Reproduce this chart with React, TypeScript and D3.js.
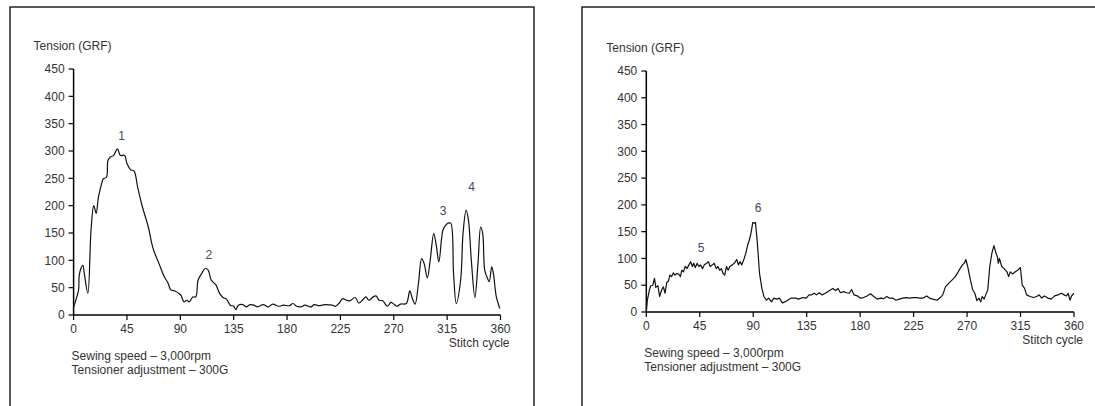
import React from "react";
import * as d3 from "d3";

// thread tension over one stitch cycle, two traces
const leftDeg = [0, 2.7, 4.2, 5, 7.8, 9, 12, 14.7, 17, 19, 21, 24, 25, 27.7, 29, 31, 33.7, 37, 39.4, 43, 45, 48, 51, 54, 58, 63, 67, 72, 76.5, 79.5, 82, 85.5, 88.5, 90.6, 93, 95.4, 97.5, 100.5, 103, 105, 108, 111, 113.5, 116, 120, 123, 126, 129, 132, 135, 136.7, 139, 142.7, 145.7, 148.7, 152, 155, 160, 164, 168, 173, 177, 182, 185, 188, 192, 195, 200, 203, 207, 212, 218, 221, 224, 227, 230, 233, 237.5, 240.5, 243.5, 246.5, 249, 252.5, 255, 257.7, 260.7, 264.6, 267.6, 270, 272.7, 275.7, 280.6, 283.5, 285.7, 288, 290.8, 293.5, 295.6, 298.3, 300.7, 303.7, 306, 308, 311.4, 313.4, 315.8, 318, 320.4, 322.7, 326.4, 328.4, 331, 333, 335.4, 338.4, 341, 343.3, 345, 346.7, 349, 350.5, 352.6, 354, 356.5, 359.4];
const leftVal = [14, 33, 46, 76, 91, 76, 40, 155, 200, 186, 216, 243, 249, 252, 283, 289, 292, 304, 292, 292, 277, 266, 263, 234, 198, 161, 122, 94, 70, 59, 46, 44, 40, 36, 24, 27, 24, 33, 33, 64, 76, 85, 82, 64, 55, 40, 32, 29, 18, 16, 10, 18, 19, 15, 19, 18, 15, 19, 15, 20, 16, 18, 17, 21, 16, 15, 18, 15, 19, 17, 19, 18, 16, 22, 30, 27, 26, 32, 22, 27, 33, 27, 33, 35, 27, 26, 16, 23, 20, 16, 20, 21, 44, 30, 20, 58, 103, 94, 68, 100, 149, 125, 97, 155, 163, 168, 168, 76, 21, 64, 149, 192, 173, 100, 32, 94, 161, 149, 82, 67, 61, 88, 76, 33, 12];

const rightDeg = [0, 0.9, 2.6, 3.7, 5.5, 6.9, 8, 9.8, 11.2, 12.9, 14.4, 15.8, 17.2, 18.7, 19.8, 21.2, 22.7, 24.1, 25.8, 27.3, 28.7, 29.9, 31.3, 32.7, 34.2, 35.9, 37.3, 38.8, 39.9, 41.3, 42.8, 44.2, 45.6, 47.4, 48.8, 50.8, 52.3, 53.7, 55.7, 57.1, 58.9, 60.3, 61.7, 63.2, 64.6, 66, 67.5, 68.9, 70.3, 72.4, 74.4, 76.1, 77.5, 79, 80.4, 82.4, 83.8, 85.3, 86.7, 88.1, 89.6, 91, 91.9, 93.3, 95.3, 97.3, 99, 101, 103, 105.4, 107.4, 109.7, 112, 114.6, 116.9, 119.1, 122, 125.5, 128.3, 131.8, 134.6, 137, 139.2, 141.3, 143.3, 145.6, 147.9, 150.7, 154.2, 157, 159.3, 161.4, 163.4, 166.2, 168.5, 170.8, 172.8, 174.8, 177.7, 180, 182.9, 185.8, 188.6, 191.5, 194.4, 197.2, 200, 202.4, 204.4, 207.3, 210.2, 213, 215.9, 218.8, 221.6, 224.5, 227.4, 230.3, 233.1, 236, 238.3, 241.2, 244.6, 247.5, 249.5, 251.8, 254.7, 257.5, 259.8, 261.8, 263.8, 266.1, 267.6, 269, 270.5, 272.8, 274.8, 276.5, 278.3, 280, 281.4, 282.8, 284.3, 285.7, 287.4, 289.1, 290.9, 292.6, 294.3, 295.5, 296.3, 297.2, 299.2, 301.2, 303.5, 305, 306.3, 308.3, 310.6, 312.6, 314.9, 316.4, 318.4, 320.1, 323, 325.9, 328.7, 330.7, 332.8, 335.1, 337.9, 340.8, 343.7, 346.5, 349.4, 351.7, 353.7, 355.1, 356.6, 358, 360];
const rightVal = [0, 22, 41, 49, 50, 63, 46, 49, 29, 41, 47, 35, 55, 58, 69, 66, 73, 69, 72, 71, 66, 78, 75, 85, 81, 88, 94, 85, 91, 83, 91, 85, 88, 81, 88, 91, 94, 85, 88, 91, 81, 85, 78, 81, 72, 69, 85, 78, 85, 88, 92, 98, 88, 94, 88, 100, 110, 125, 134, 147, 167, 166, 167, 134, 72, 44, 29, 22, 26, 19, 26, 24, 26, 17, 19, 22, 26, 26, 24, 27, 26, 32, 32, 35, 32, 36, 32, 35, 40, 44, 40, 44, 36, 38, 36, 35, 42, 32, 30, 26, 27, 30, 34, 29, 24, 26, 25, 29, 26, 26, 22, 24, 26, 27, 26, 27, 27, 26, 26, 30, 26, 24, 22, 27, 32, 47, 54, 60, 65, 72, 80, 88, 91, 98, 85, 60, 41, 35, 21, 26, 19, 29, 24, 32, 41, 85, 110, 124, 110, 103, 91, 100, 85, 81, 75, 66, 75, 71, 75, 78, 83, 50, 44, 32, 29, 27, 29, 32, 26, 30, 26, 24, 30, 32, 35, 32, 30, 35, 22, 30, 35];

const xTicks = [0, 45, 90, 135, 180, 225, 270, 315, 360];
const yTicks = [0, 50, 100, 150, 200, 250, 300, 350, 400, 450];

const leftPeaks = [
  { t: "1", deg: 40.4, val: 320 },
  { t: "2", deg: 114, val: 102 },
  { t: "3", deg: 311.5, val: 183 },
  { t: "4", deg: 335.6, val: 227 },
];
const rightPeaks = [
  { t: "5", deg: 46.1, val: 112 },
  { t: "6", deg: 94, val: 187 },
];

const FONT = "Arial, 'Liberation Sans', sans-serif";
const TXT = "#333";

type PanelProps = {
  frame: [number, number, number, number];
  x0: number; x1: number; y0: number; y1: number;
  deg: number[]; val: number[];
  peaks: { t: string; deg: number; val: number }[];
  smooth: boolean;
};

const Panel = (props: PanelProps) => {
  const { frame, x0, x1, y0, y1, deg, val, peaks, smooth } = props;
  const x = d3.scaleLinear().domain([0, 360]).range([x0, x1]);
  const y = d3.scaleLinear().domain([0, 450]).range([y0, y1]);
  const pts = deg.map((d, i) => [d, val[i]] as [number, number]);
  const line = d3
    .line<[number, number]>()
    .x(d => x(d[0]))
    .y(d => y(d[1]))
    .curve(smooth ? d3.curveCatmullRom.alpha(0.5) : d3.curveLinear);

  return (
    <g fontFamily={FONT} fontSize={12} fill={TXT}>
      <rect x={frame[0]} y={frame[1]} width={frame[2]} height={frame[3]} fill="none" stroke="#222" strokeWidth={1.5} />
      <text x={x0 - 40} y={y1 - 19}>Tension (GRF)</text>
      <line x1={x0} x2={x0} y1={y(0)} y2={y(450)} stroke="#000" strokeWidth={1.5} />
      <line x1={x0} x2={x1} y1={y0} y2={y0} stroke="#000" strokeWidth={1.5} />
      {yTicks.map(t => (
        <g key={"y" + t}>
          <line x1={x0 - 5} x2={x0} y1={y(t)} y2={y(t)} stroke="#000" strokeWidth={1.2} />
          <text x={x0 - 9} y={y(t)} dy="0.35em" textAnchor="end">{t}</text>
        </g>
      ))}
      {xTicks.map(t => (
        <g key={"x" + t}>
          <line x1={x(t)} x2={x(t)} y1={y0} y2={y0 + 5} stroke="#000" strokeWidth={1.2} />
          <text x={x(t)} y={y0 + 18} textAnchor="middle">{t}</text>
        </g>
      ))}
      <text x={x1 + 9} y={y0 + 32} textAnchor="end">Stitch cycle</text>
      <text x={x0 - 2} y={y0 + 45}>Sewing speed – 3,000rpm</text>
      <text x={x0 - 2} y={y0 + 59}>Tensioner adjustment – 300G</text>
      <path d={line(pts) ?? ""} fill="none" stroke="#111" strokeWidth={1.2} strokeLinejoin="round" />
      {peaks.map(p => (
        <text key={p.t} x={x(p.deg)} y={y(p.val)} textAnchor="middle" fill="#3a4a62">{p.t}</text>
      ))}
    </g>
  );
};

export default function App() {
  return (
    <svg width={1095} height={406} style={{ display: "block", position: "absolute", left: 0, top: 0, background: "#fff" }}>
      <Panel frame={[10, 7, 524, 420]} x0={73.6} x1={500.5} y0={315} y1={69}
        deg={leftDeg} val={leftVal} peaks={leftPeaks} smooth={true} />
      <Panel frame={[582, 7, 540, 420]} x0={646.3} x1={1074} y0={312} y1={71}
        deg={rightDeg} val={rightVal} peaks={rightPeaks} smooth={false} />
    </svg>
  );
}
